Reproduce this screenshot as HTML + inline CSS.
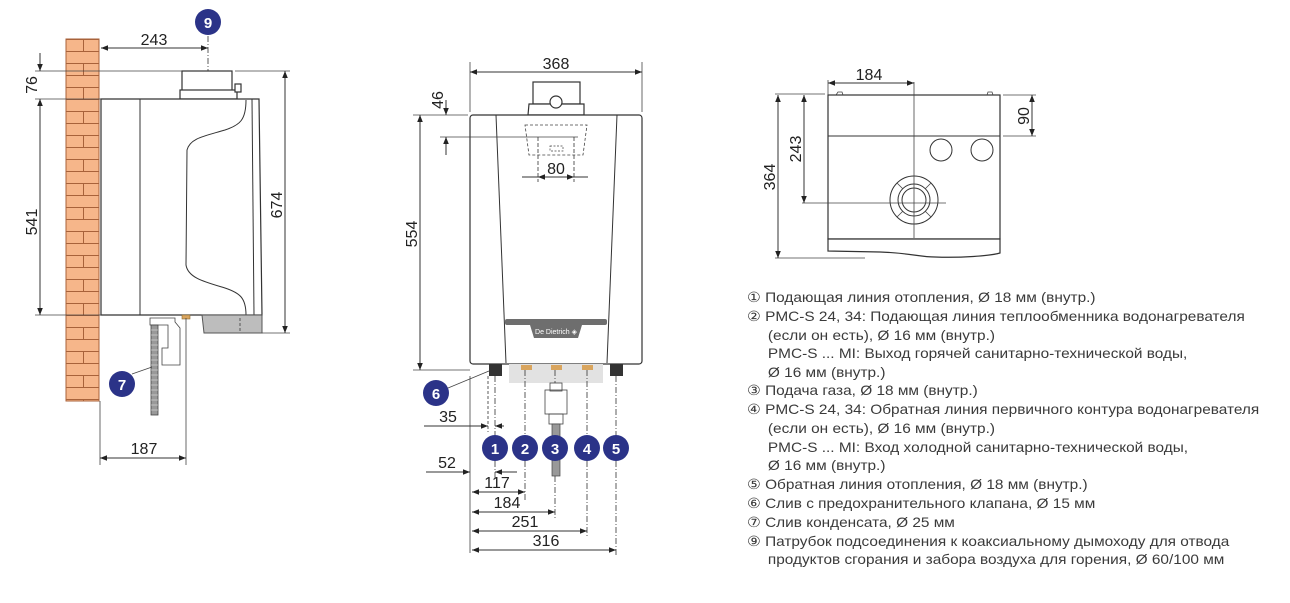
<!DOCTYPE html>
<html><head><meta charset="utf-8"><style>
html,body{margin:0;padding:0;background:#fff;}
svg{display:block;}
text{font-family:"Liberation Sans",sans-serif;}
.leg{font-family:"Liberation Sans","Noto Sans CJK SC",sans-serif;font-size:14px;fill:#3a3a3a;}
.dim{font-size:16px;fill:#222;}
.ln{stroke:#333;stroke-width:1;fill:none;}
.thin{stroke:#444;stroke-width:0.8;fill:none;}
.body{stroke:#333;stroke-width:1.2;fill:#fff;}
.bub{fill:#2b3388;}
.bt{fill:#fff;font-weight:bold;font-size:15px;text-anchor:middle;}
</style></head><body>
<svg width="1290" height="603" viewBox="0 0 1290 603" xmlns="http://www.w3.org/2000/svg">
<defs>
<pattern id="brick" x="66" y="39" width="34" height="24" patternUnits="userSpaceOnUse">
<rect width="34" height="24" fill="#f6b68a"/>
<line x1="0" y1="0.5" x2="34" y2="0.5" stroke="#a8623a" stroke-width="1"/>
<line x1="0" y1="12.5" x2="34" y2="12.5" stroke="#a8623a" stroke-width="1"/>
<line x1="17.5" y1="0" x2="17.5" y2="12" stroke="#a8623a" stroke-width="1"/>
</pattern>
<marker id="ar" viewBox="0 0 10 10" refX="10" refY="5" markerWidth="9" markerHeight="7" orient="auto-start-reverse" markerUnits="userSpaceOnUse">
<path d="M0,1 L10,5 L0,9 z" fill="#222"/>
</marker>
</defs>

<!-- ===== LEFT VIEW ===== -->
<rect x="66" y="39" width="33" height="362" fill="url(#brick)" stroke="#a8623a" stroke-width="1"/>
<rect x="182" y="71" width="50" height="20" class="body"/>
<rect x="180" y="90" width="57" height="9" class="body"/>
<rect x="235" y="84" width="6" height="8" class="body"/>
<path d="M101,99 L259,99 L262,315 L101,315 Z" class="body"/>
<line x1="140" y1="99" x2="140" y2="315" class="ln"/>
<line x1="252" y1="99" x2="254" y2="315" class="ln"/>
<path d="M246,100 C246,120 240,125 225,130 C205,136 190,138 187,150 L186,265 C188,278 205,282 225,288 C240,293 246,298 246,315" class="ln"/>
<path d="M202,315 L262,315 L262,333 L204,333 Z" fill="#bdbdbd" stroke="#555" stroke-width="1"/>
<line x1="240" y1="318" x2="240" y2="333" stroke="#555" stroke-dasharray="3,2"/>
<rect x="182" y="315" width="8" height="4" fill="#d9a55e" stroke="#8a6a30" stroke-width="0.6"/>
<path d="M150,318 L175,318 L175,322 L180,328 L180,365 L162,365 L162,348 L168,348 L168,325 L150,325 Z" class="thin"/>
<rect x="151" y="325" width="7" height="90" fill="#999" stroke="#444" stroke-width="0.8"/>
<g stroke="#ddd" stroke-width="0.6">
<line x1="151" y1="330" x2="158" y2="330"/><line x1="151" y1="335" x2="158" y2="335"/><line x1="151" y1="340" x2="158" y2="340"/><line x1="151" y1="345" x2="158" y2="345"/><line x1="151" y1="350" x2="158" y2="350"/><line x1="151" y1="355" x2="158" y2="355"/><line x1="151" y1="360" x2="158" y2="360"/><line x1="151" y1="365" x2="158" y2="365"/><line x1="151" y1="370" x2="158" y2="370"/><line x1="151" y1="375" x2="158" y2="375"/><line x1="151" y1="380" x2="158" y2="380"/><line x1="151" y1="385" x2="158" y2="385"/><line x1="151" y1="390" x2="158" y2="390"/><line x1="151" y1="395" x2="158" y2="395"/><line x1="151" y1="400" x2="158" y2="400"/><line x1="151" y1="405" x2="158" y2="405"/><line x1="151" y1="410" x2="158" y2="410"/>
</g>
<line x1="132" y1="374" x2="152" y2="367" class="thin"/>
<line x1="35" y1="71" x2="182" y2="71" class="thin"/>
<line x1="235" y1="71" x2="290" y2="71" class="thin"/>
<line x1="35" y1="99" x2="101" y2="99" class="thin"/>
<line x1="35" y1="315" x2="101" y2="315" class="thin"/>
<line x1="262" y1="333" x2="290" y2="333" class="thin"/>
<line x1="40" y1="53" x2="40" y2="71" class="ln" marker-end="url(#ar)"/>
<line x1="40" y1="99" x2="40" y2="315" class="ln" marker-start="url(#ar)" marker-end="url(#ar)"/>
<line x1="285" y1="71" x2="285" y2="333" class="ln" marker-start="url(#ar)" marker-end="url(#ar)"/>
<line x1="101" y1="48" x2="208" y2="48" class="ln" marker-start="url(#ar)" marker-end="url(#ar)"/>
<line x1="208" y1="36" x2="208" y2="71" stroke="#333" stroke-width="0.8" stroke-dasharray="6,2,1,2"/>
<text x="154" y="45" class="dim" text-anchor="middle">243</text>
<text transform="translate(37,85) rotate(-90)" class="dim" text-anchor="middle">76</text>
<text transform="translate(37,222) rotate(-90)" class="dim" text-anchor="middle">541</text>
<text transform="translate(282,205) rotate(-90)" class="dim" text-anchor="middle">674</text>
<line x1="100" y1="401" x2="100" y2="465" class="thin"/>
<line x1="186" y1="318" x2="186" y2="465" class="thin"/>
<line x1="100" y1="458" x2="186" y2="458" class="ln" marker-start="url(#ar)" marker-end="url(#ar)"/>
<text x="144" y="454" class="dim" text-anchor="middle">187</text>
<circle cx="208" cy="22" r="13" class="bub"/><text x="208" y="28" class="bt">9</text>
<circle cx="122" cy="384" r="13" class="bub"/><text x="122" y="390" class="bt">7</text>

<!-- ===== MIDDLE VIEW ===== -->
<rect x="533" y="82" width="47" height="22" class="body"/>
<path d="M529,104 L584,104 L584,115 L528,115 Z" class="body"/>
<circle cx="556" cy="102" r="6" class="body"/>
<rect x="470" y="115" width="172" height="249" rx="3" class="body"/>
<line x1="496" y1="115" x2="506" y2="363" class="ln"/>
<line x1="617" y1="115" x2="607" y2="363" class="ln"/>
<path d="M525,125 L587,125 L583,155 L529,155 Z" fill="none" stroke="#444" stroke-width="0.8" stroke-dasharray="3,2"/>
<rect x="550" y="146" width="13" height="5" fill="none" stroke="#444" stroke-width="0.7" stroke-dasharray="2,1.5"/>
<rect x="505" y="319" width="102" height="6" rx="2" fill="#6e6e6e"/>
<path d="M530,325 L582,325 L578,338 L534,338 Z" fill="#6e6e6e"/>
<text x="556" y="334" font-size="7" fill="#fff" text-anchor="middle">De Dietrich ◈</text>
<rect x="509" y="364" width="94" height="19" fill="#e2e2e2"/>
<rect x="489" y="364" width="13" height="12" fill="#333"/>
<rect x="610" y="364" width="13" height="12" fill="#333"/>
<rect x="521" y="365" width="11" height="5" fill="#d9a55e"/>
<rect x="551" y="365" width="11" height="5" fill="#d9a55e"/>
<rect x="582" y="365" width="11" height="5" fill="#d9a55e"/>
<rect x="550" y="383" width="12" height="8" class="thin" fill="#fff"/>
<rect x="545" y="390" width="22" height="24" class="thin" fill="#fff"/>
<rect x="549" y="414" width="14" height="10" class="thin" fill="#fff"/>
<rect x="552" y="424" width="8" height="52" fill="#999" stroke="#444" stroke-width="0.7"/>
<g stroke="#333" stroke-width="0.8" stroke-dasharray="6,2,1,2">
<line x1="495" y1="376" x2="495" y2="435"/>
<line x1="525" y1="370" x2="525" y2="435"/>
<line x1="555" y1="370" x2="555" y2="383"/>
<line x1="587" y1="370" x2="587" y2="435"/>
<line x1="616" y1="376" x2="616" y2="435"/>
<line x1="525" y1="461" x2="525" y2="500"/>
<line x1="555" y1="476" x2="555" y2="520"/>
<line x1="587" y1="461" x2="587" y2="538"/>
<line x1="616" y1="461" x2="616" y2="557"/>
<line x1="495" y1="461" x2="495" y2="480"/>
</g>
<line x1="488" y1="376" x2="488" y2="432" stroke="#333" stroke-width="0.8" stroke-dasharray="3,2"/>
<line x1="436" y1="393" x2="489" y2="371" class="thin"/>
<line x1="470" y1="62" x2="470" y2="112" class="thin"/>
<line x1="642" y1="62" x2="642" y2="112" class="thin"/>
<line x1="470" y1="72" x2="642" y2="72" class="ln" marker-start="url(#ar)" marker-end="url(#ar)"/>
<text x="556" y="69" class="dim" text-anchor="middle">368</text>
<line x1="413" y1="115" x2="468" y2="115" class="thin"/>
<line x1="440" y1="137" x2="578" y2="137" class="thin"/>
<line x1="446" y1="100" x2="446" y2="115" class="ln" marker-end="url(#ar)"/>
<line x1="446" y1="155" x2="446" y2="137" class="ln" marker-end="url(#ar)"/>
<text transform="translate(443,100) rotate(-90)" class="dim" text-anchor="middle">46</text>
<line x1="420" y1="115" x2="420" y2="370" class="ln" marker-start="url(#ar)" marker-end="url(#ar)"/>
<line x1="413" y1="370" x2="470" y2="370" class="thin"/>
<text transform="translate(417,234) rotate(-90)" class="dim" text-anchor="middle">554</text>
<g stroke="#333" stroke-width="0.8" stroke-dasharray="4,2"><line x1="538" y1="137" x2="538" y2="182"/><line x1="574" y1="137" x2="574" y2="182"/></g>
<line x1="522" y1="177" x2="538" y2="177" class="ln"/>
<line x1="538" y1="177" x2="574" y2="177" class="ln" marker-start="url(#ar)" marker-end="url(#ar)"/>
<line x1="574" y1="177" x2="588" y2="177" class="ln"/>
<text x="556" y="174" class="dim" text-anchor="middle">80</text>
<line x1="470" y1="376" x2="470" y2="553" class="thin"/>
<line x1="424" y1="426" x2="488" y2="426" class="ln" marker-end="url(#ar)"/>
<line x1="504" y1="426" x2="495" y2="426" class="ln" marker-end="url(#ar)"/>
<text x="448" y="422" class="dim" text-anchor="middle">35</text>
<line x1="426" y1="472" x2="470" y2="472" class="ln" marker-end="url(#ar)"/>
<line x1="517" y1="472" x2="495" y2="472" class="ln" marker-end="url(#ar)"/>
<text x="447" y="468" class="dim" text-anchor="middle">52</text>
<line x1="472" y1="492" x2="525" y2="492" class="ln" marker-start="url(#ar)" marker-end="url(#ar)"/>
<text x="497" y="488" class="dim" text-anchor="middle">117</text>
<line x1="472" y1="512" x2="555" y2="512" class="ln" marker-start="url(#ar)" marker-end="url(#ar)"/>
<text x="507" y="508" class="dim" text-anchor="middle">184</text>
<line x1="472" y1="531" x2="587" y2="531" class="ln" marker-start="url(#ar)" marker-end="url(#ar)"/>
<text x="525" y="527" class="dim" text-anchor="middle">251</text>
<line x1="472" y1="550" x2="616" y2="550" class="ln" marker-start="url(#ar)" marker-end="url(#ar)"/>
<text x="546" y="546" class="dim" text-anchor="middle">316</text>
<circle cx="495" cy="448" r="13" class="bub"/><text x="495" y="454" class="bt">1</text>
<circle cx="525" cy="448" r="13" class="bub"/><text x="525" y="454" class="bt">2</text>
<circle cx="555" cy="448" r="13" class="bub"/><text x="555" y="454" class="bt">3</text>
<circle cx="587" cy="448" r="13" class="bub"/><text x="587" y="454" class="bt">4</text>
<circle cx="616" cy="448" r="13" class="bub"/><text x="616" y="454" class="bt">5</text>
<circle cx="436" cy="393" r="13" class="bub"/><text x="436" y="399" class="bt">6</text>

<!-- ===== RIGHT VIEW ===== -->
<rect x="828" y="95" width="172" height="144" class="body"/>
<path d="M828,239 L1000,239 L1000,253 C990,256 960,258 935,257 C920,257 910,253 880,252 L828,251 Z" class="body"/>
<path d="M836,95 L838,92 L842,92 L843,95 M987,95 L988,92 L992,92 L993,95" class="thin"/>
<line x1="828" y1="136" x2="1000" y2="136" class="ln"/>
<circle cx="941" cy="150" r="11" class="ln"/>
<circle cx="982" cy="150" r="11" class="ln"/>
<circle cx="914" cy="200" r="24" class="ln"/>
<circle cx="914" cy="200" r="16" class="ln"/>
<circle cx="914" cy="200" r="12" class="ln"/>
<g class="thin"><line x1="897" y1="183" x2="903" y2="189"/><line x1="931" y1="183" x2="925" y2="189"/><line x1="897" y1="217" x2="903" y2="211"/><line x1="931" y1="217" x2="925" y2="211"/></g>
<line x1="914" y1="82" x2="914" y2="238" class="thin"/>
<line x1="802" y1="203" x2="946" y2="203" class="thin"/>
<line x1="828" y1="80" x2="828" y2="95" class="thin"/>
<line x1="828" y1="83" x2="914" y2="83" class="ln" marker-start="url(#ar)" marker-end="url(#ar)"/>
<text x="869" y="80" class="dim" text-anchor="middle">184</text>
<line x1="775" y1="94" x2="825" y2="94" class="thin"/>
<line x1="775" y1="258" x2="865" y2="258" class="thin"/>
<line x1="778" y1="95" x2="778" y2="258" class="ln" marker-start="url(#ar)" marker-end="url(#ar)"/>
<text transform="translate(775,177) rotate(-90)" class="dim" text-anchor="middle">364</text>
<line x1="804" y1="95" x2="804" y2="203" class="ln" marker-start="url(#ar)" marker-end="url(#ar)"/>
<text transform="translate(801,149) rotate(-90)" class="dim" text-anchor="middle">243</text>
<line x1="1003" y1="95" x2="1036" y2="95" class="thin"/>
<line x1="1003" y1="136" x2="1036" y2="136" class="thin"/>
<line x1="1032" y1="95" x2="1032" y2="136" class="ln" marker-start="url(#ar)" marker-end="url(#ar)"/>
<text transform="translate(1029,116) rotate(-90)" class="dim" text-anchor="middle">90</text>

<!-- ===== LEGEND ===== -->
<g class="leg" transform="translate(747,0) scale(1.1,1) translate(-747,0)">
<text x="747" y="302">① Подающая линия отопления, Ø 18 мм (внутр.)</text>
<text x="747" y="321">② PMC-S 24, 34: Подающая линия теплообменника водонагревателя</text>
<text x="766" y="340">(если он есть), Ø 16 мм (внутр.)</text>
<text x="766" y="358">PMC-S ... MI: Выход горячей санитарно-технической воды,</text>
<text x="766" y="377">Ø 16 мм (внутр.)</text>
<text x="747" y="395">③ Подача газа, Ø 18 мм (внутр.)</text>
<text x="747" y="414">④ PMC-S 24, 34: Обратная линия первичного контура водонагревателя</text>
<text x="766" y="433">(если он есть), Ø 16 мм (внутр.)</text>
<text x="766" y="452">PMC-S ... MI: Вход холодной санитарно-технической воды,</text>
<text x="766" y="470">Ø 16 мм (внутр.)</text>
<text x="747" y="489">⑤ Обратная линия отопления, Ø 18 мм (внутр.)</text>
<text x="747" y="508">⑥ Слив с предохранительного клапана, Ø 15 мм</text>
<text x="747" y="527">⑦ Слив конденсата, Ø 25 мм</text>
<text x="747" y="546">⑨ Патрубок подсоединения к коаксиальному дымоходу для отвода</text>
<text x="766" y="564">продуктов сгорания и забора воздуха для горения, Ø 60/100 мм</text>
</g>
</svg>
</body></html>
